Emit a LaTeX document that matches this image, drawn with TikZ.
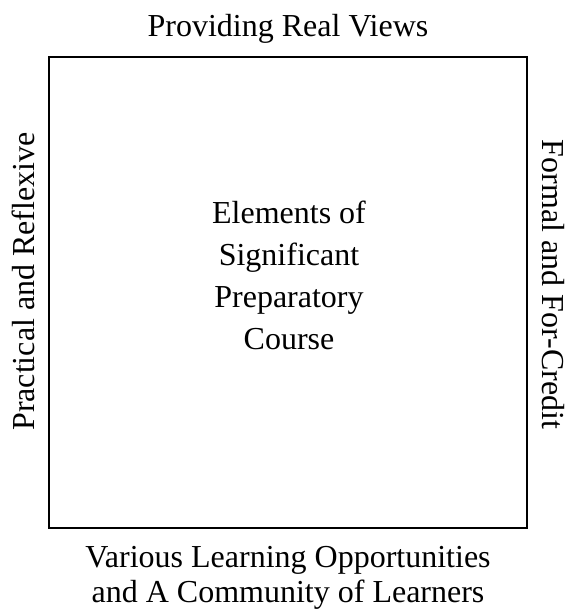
\documentclass[tikz,border=0pt]{standalone}
\usepackage{fontspec}
\setmainfont{Liberation Serif}
\usetikzlibrary{positioning}
\tikzset{frame/.style={draw, line width=1.6pt, minimum width=478pt, minimum height=471pt, inner sep=0pt}}
\tikzset{lbl/.style={font=\fontsize{32}{35}\selectfont, inner sep=0pt, align=center}}

\begin{document}
\begin{tikzpicture}[x=1pt, y=1pt]
  \useasboundingbox (0,0) rectangle (573,-609);

  % --- the square ---
  \node[frame] (sq) at (288,-292.5) {};
  \node[lbl, font=\fontsize{32}{42}\selectfont] (core) at (289,-275) {Elements of\\Significant\\Preparatory\\Course};

  % --- the four sides ---
  \node[lbl, above=20pt of sq.north, anchor=base] (top) {Providing Real Views};
  \node[lbl, rotate=90, left=13pt of sq, anchor=south, xshift=11pt] (left) {Practical and Reflexive};
  \node[lbl, rotate=-90, right=14pt of sq, anchor=south, xshift=-8pt] (right) {Formal and For-Credit};
  \node[lbl, below=17pt of sq] (bottom) {Various Learning Opportunities\\and A Community of Learners};
\end{tikzpicture}
\end{document}
